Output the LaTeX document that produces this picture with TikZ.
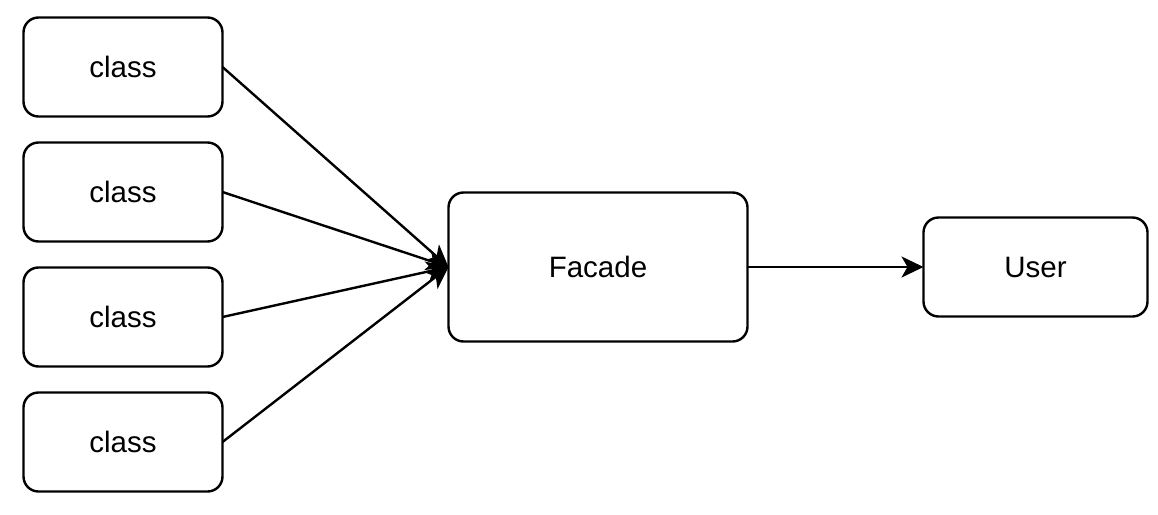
\documentclass[tikz,border=0pt]{standalone}
\usepackage{fontspec}
\setmainfont{Liberation Sans}
\usetikzlibrary{arrows.meta}
\begin{document}
\begin{tikzpicture}[x=1pt,y=-1pt,
  box/.style={draw=black, line width=2.4pt, rounded corners=15pt, fill=white, inner sep=0pt, outer sep=0pt, font=\fontsize{29.5}{33}\selectfont, text=black},
  conn/.style={draw=black, line width=2.4pt, -{Stealth[length=22pt,width=21pt,inset=6pt]}}
]
\useasboundingbox (0,0) rectangle (1158,514);
\node[box, minimum width=199pt, minimum height=99pt] (c1) at (123,67) {class};
\node[box, minimum width=199pt, minimum height=99pt] (c2) at (123,192) {class};
\node[box, minimum width=199pt, minimum height=99pt] (c3) at (123,317) {class};
\node[box, minimum width=199pt, minimum height=99pt] (c4) at (123,442) {class};
\node[box, minimum width=299pt, minimum height=149pt] (f) at (598,267) {Facade};
\node[box, minimum width=224pt, minimum height=99pt] (u) at (1035.5,267) {User};
\draw[conn] (c1.east) -- (f.west);
\draw[conn] (c2.east) -- (f.west);
\draw[conn] (c3.east) -- (f.west);
\draw[conn] (c4.east) -- (f.west);
\draw[conn] (f.east) -- (u.west);
\end{tikzpicture}
\end{document}
